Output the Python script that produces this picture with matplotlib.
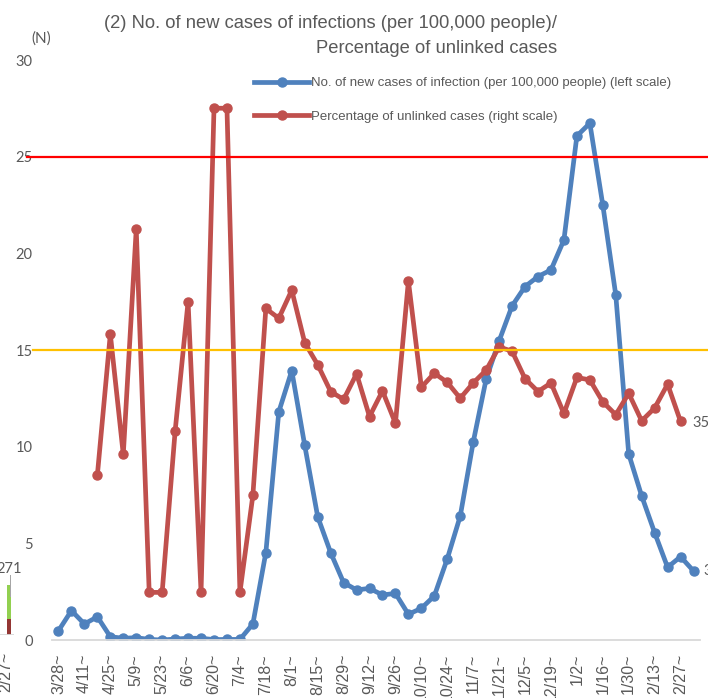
import numpy as np
import matplotlib
matplotlib.use("Agg")
import matplotlib.pyplot as plt
from matplotlib.lines import Line2D
from matplotlib.transforms import blended_transform_factory

# weekly categories (week starting)
weeks = ['3/28', '4/4', '4/11', '4/18', '4/25', '5/2', '5/9', '5/16', '5/23', '5/30',
         '6/6', '6/13', '6/20', '6/27', '7/4', '7/11', '7/18', '7/25', '8/1', '8/8',
         '8/15', '8/22', '8/29', '9/5', '9/12', '9/19', '9/26', '10/3', '10/10', '10/17',
         '10/24', '10/31', '11/7', '11/14', '11/21', '11/28', '12/5', '12/12', '12/19', '12/26',
         '1/2', '1/9', '1/16', '1/23', '1/30', '2/6', '2/13', '2/20', '2/27', '3/6']

# new cases per 100,000 people (left scale)
new_cases = [0.48, 1.52, 0.83, 1.20, 0.17, 0.09, 0.12, 0.03, 0.00, 0.05,
             0.09, 0.09, 0.02, 0.03, 0.03, 0.83, 4.52, 11.8, 13.93, 10.07,
             6.38, 4.52, 2.97, 2.59, 2.67, 2.33, 2.41, 1.33, 1.64, 2.28,
             4.20, 6.41, 10.23, 13.50, 15.47, 17.28, 18.28, 18.80, 19.14, 20.69,
             26.07, 26.73, 22.50, 17.85, 9.62, 7.45, 5.55, 3.76, 4.31, 3.57]

# percentage of unlinked cases (right scale, %)
unlinked = [np.nan, np.nan, np.nan, 27.0, 50.1, 30.4, 67.3, 7.8, 7.8, 34.2,
            55.4, 7.8, 87.1, 87.1, 7.8, 23.7, 54.3, 52.7, 57.3, 48.7,
            45.1, 40.7, 39.4, 43.6, 36.6, 40.8, 35.5, 58.8, 41.4, 43.7,
            42.2, 39.6, 42.1, 44.2, 48.0, 47.3, 42.8, 40.7, 42.1, 37.1,
            43.0, 42.6, 39.0, 36.9, 40.4, 35.9, 38.0, 41.9, 35.8, np.nan]

red_level = 25      # left scale
orange_level = 15   # left scale

# remnant of the neighbouring chart at the left edge
nb_red = [16]
nb_green = [34]
nb_gray = [22]
nb_total = '271'

BLUE = '#4F81BD'
RED = '#C0504D'
GRAY = '#595959'
TICKFONT = ['Lato', 'DejaVu Sans']
XFONT = ['Liberation Sans', 'DejaVu Sans']

fig = plt.figure(figsize=(7.08, 6.98), dpi=100)
ax = fig.add_axes([52/708, 58/698, 648/708, 580/698])
x = np.arange(len(weeks))

ax.plot(x, new_cases, color=BLUE, lw=3.4, marker='o', ms=6.5, solid_capstyle='round')
ax.set_xlim(-0.5, len(weeks) - 0.5)
ax.set_ylim(0, 30)
ax.set_yticks(range(0, 31, 5))
ax.set_xticks(x[::2])
ax.set_xticklabels([w + '~' for w in weeks[::2]], rotation=90, va='top', ha='center')
for s in ['top', 'left', 'right']:
    ax.spines[s].set_visible(False)
ax.spines['bottom'].set_color('#D9D9D9')
ax.spines['bottom'].set_linewidth(1.3)
ax.tick_params(axis='both', length=0, colors=GRAY, labelsize=10.5)
ax.tick_params(axis='y', pad=14)
ax.tick_params(axis='x', pad=10)
for lab in ax.get_yticklabels():
    lab.set_family(TICKFONT)
for lab in ax.get_xticklabels():
    lab.set_family(XFONT)
    lab.set_fontsize(11.5)

ax2 = ax.twinx()
ax2.plot(x, unlinked, color=RED, lw=3.4, marker='o', ms=6.5, solid_capstyle='round')
ax2.set_ylim(0, 95)
ax2.set_yticks([])
for s in ax2.spines.values():
    s.set_visible(False)

# threshold lines
tr = blended_transform_factory(ax2.transAxes, ax.transData)
ax2.plot([-0.038, 1.02], [red_level, red_level], color='#FF0000', lw=1.6,
         transform=tr, clip_on=False, zorder=5)
ax2.plot([-0.029, 1.02], [orange_level, orange_level], color='#FFC000', lw=1.6,
         transform=tr, clip_on=False, zorder=5)

# data labels at the last points (cut off by the edge)
ax2.annotate(f'{unlinked[-2]:.1f}%', (48, unlinked[-2]), xytext=(12, -2),
             textcoords='offset pixels', va='center', ha='left', color=GRAY,
             fontsize=10.5, family='Lato', annotation_clip=False)
ax.annotate(f'{new_cases[-1]:.2f}', (49, new_cases[-1]), xytext=(10, 0),
            textcoords='offset pixels', va='center', ha='left', color=GRAY,
            fontsize=10.5, family='Lato', annotation_clip=False)

# legend
handles = [Line2D([], [], color=BLUE, lw=3.4, marker='o', ms=6.5),
           Line2D([], [], color=RED, lw=3.4, marker='o', ms=6.5)]
labels = ['No. of new cases of infection (per 100,000 people) (left scale)',
          'Percentage of unlinked cases (right scale)']
leg = ax2.legend(handles, labels, loc='upper left', bbox_to_anchor=(254/708, 1 - 77/698),
                 bbox_transform=fig.transFigure, frameon=False,
                 prop={'family': 'Liberation Sans', 'size': 9.5},
                 handlelength=4.2, handletextpad=0.1, labelspacing=1.62,
                 borderpad=0, borderaxespad=0)
for t in leg.get_texts():
    t.set_color(GRAY)

# title and unit
fig.text(557/708, 1 - 15/698,
         '(2) No. of new cases of infections (per 100,000 people)/\nPercentage of unlinked cases',
         ha='right', va='top', multialignment='right', fontsize=13.2,
         family='Liberation Sans', color=GRAY, linespacing=1.6)
fig.text(41/708, 1 - 39/698, '(N)', ha='center', va='center', fontsize=11,
         family='Lato', color=GRAY)

# neighbouring chart remnant
nb = fig.add_axes([0, 63/698, 14/708, 60/698])
nb.bar([0.29], nb_red, width=0.5, color='#943634')
nb.bar([0.29], nb_green, width=0.5, bottom=nb_red, color='#92D050')
nb.bar([0.45], nb_gray, width=0.15, bottom=[nb_red[0] + nb_green[0] - 12], color='#A6A6A6')
nb.set_xlim(-1, 1)
nb.set_ylim(0, 60)
nb.axis('off')
nb.axhline(0, color='#D9D9D9', lw=1.3)
nb.text(0.29, 59, nb_total, ha='center', va='bottom', fontsize=10.5, family='Lato',
        color=GRAY, clip_on=False)
fig.text(-2/708, 1 - 652/698, '2/27~', rotation=90, ha='left', va='top',
         fontsize=11.5, family=XFONT, color=GRAY)

fig.savefig('out.png', dpi=100)
